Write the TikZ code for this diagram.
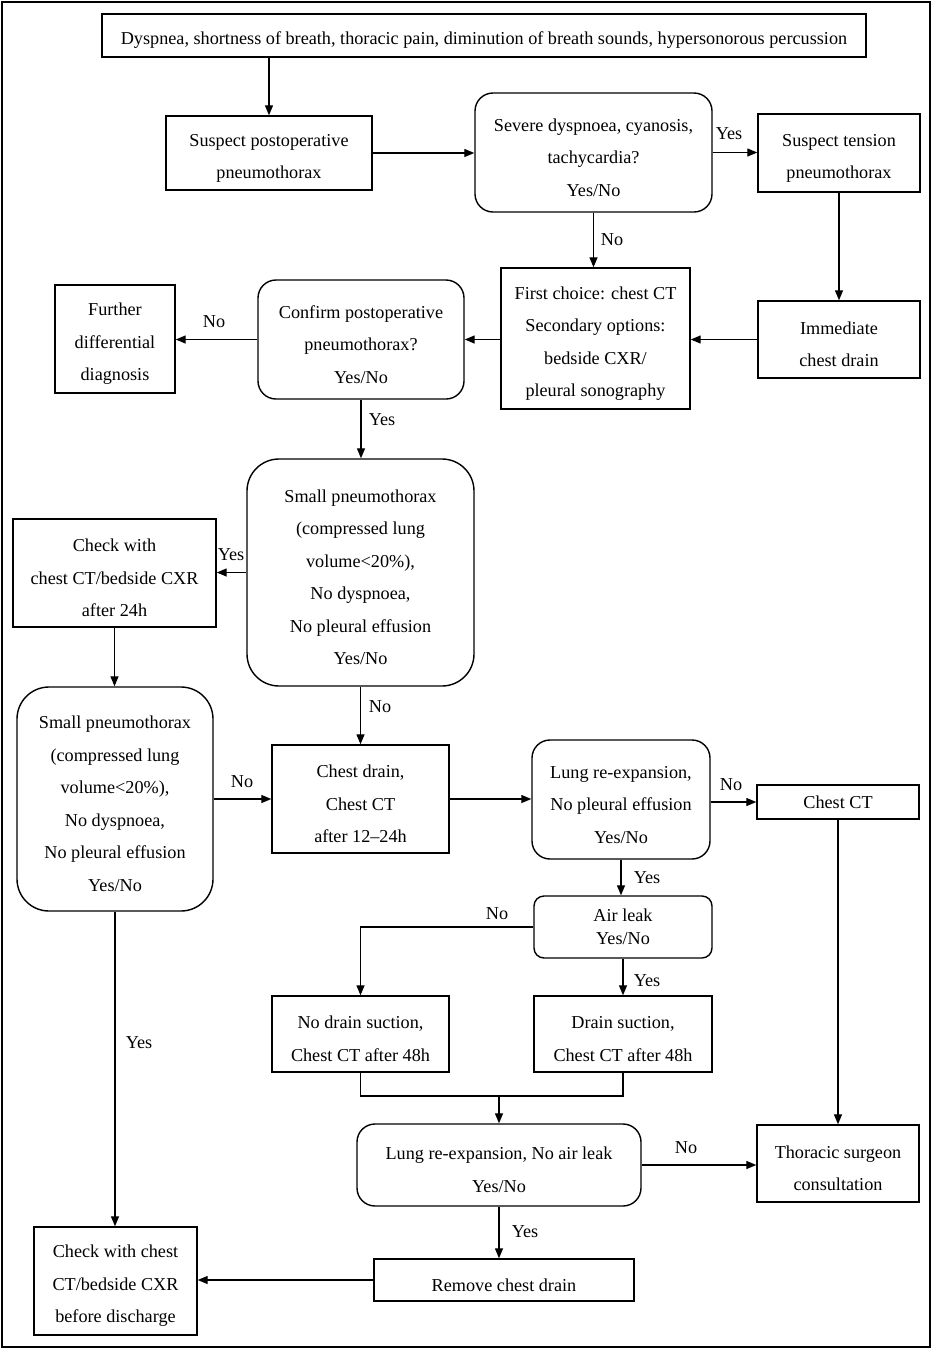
\documentclass[tikz,border=0pt]{standalone}
\usepackage{fontspec}
\setmainfont{Liberation Serif}
\usetikzlibrary{arrows.meta}
\newcommand\fl{\rule{0pt}{22.5pt}}
\begin{document}
\begin{tikzpicture}[x=1pt,y=-1pt,
 every node/.style={font=\fontsize{18.2}{32.5}\selectfont},
 box/.style={draw, line width=1.4pt, align=center, inner sep=0pt},
 rbox/.style={box, rounded corners=18pt},
 arr/.style={line width=1.3pt, -{Triangle[length=10pt,width=8pt]}},
 ln/.style={line width=1.3pt},
 lbl/.style={inner sep=0pt}]
\useasboundingbox (0,0) rectangle (933,1350);
\draw[line width=1.5pt] (2,2) rectangle (930,1347);

\node[box, minimum width=764pt, minimum height=43pt] (n1) at (484,35.5) {\fl Dyspnea, shortness of breath, thoracic pain, diminution of breath sounds, hypersonorous percussion};
\node[box, minimum width=206pt, minimum height=74pt] (n2) at (269,153) {\fl Suspect postoperative\\pneumothorax};
\node[rbox, minimum width=237pt, minimum height=119pt] (n3) at (593.5,152.5) {\fl Severe dyspnoea, cyanosis,\\tachycardia?\\Yes/No};
\node[box, minimum width=162pt, minimum height=78pt] (n4) at (839,153) {\fl Suspect tension\\pneumothorax};
\node[box, minimum width=189pt, minimum height=141pt] (n5) at (595.5,338.5) {\fl First choice: chest CT\\Secondary options:\\bedside CXR/\\pleural sonography};
\node[box, minimum width=162pt, minimum height=77pt] (n6) at (839,339.5) {\fl Immediate\\chest drain};
\node[rbox, minimum width=206pt, minimum height=119pt] (n7) at (361,339.5) {\fl Confirm postoperative\\pneumothorax?\\Yes/No};
\node[box, minimum width=120pt, minimum height=108pt] (n8) at (115,339) {\fl Further\\differential\\diagnosis};
\node[rbox, rounded corners=32pt, minimum width=227pt, minimum height=227pt] (n9) at (360.5,572.5) {\fl Small pneumothorax\\(compressed lung\\volume<20\%),\\No dyspnoea,\\No pleural effusion\\Yes/No};
\node[box, minimum width=203pt, minimum height=108pt] (n10) at (114.5,573) {\fl Check with\\chest CT/bedside CXR\\after 24h};
\node[rbox, rounded corners=32pt, minimum width=196pt, minimum height=224pt] (n11) at (115,799) {\fl Small pneumothorax\\(compressed lung\\volume<20\%),\\No dyspnoea,\\No pleural effusion\\Yes/No};
\node[box, minimum width=177pt, minimum height=108pt] (n12) at (360.5,799) {\fl Chest drain,\\Chest CT\\after 12–24h};
\node[rbox, minimum width=178pt, minimum height=119pt] (n13) at (621,799.5) {\fl Lung re-expansion,\\No pleural effusion\\Yes/No};
\node[box, minimum width=162pt, minimum height=34pt] (n14) at (838,802) {Chest CT};
\node[box, rounded corners=10pt, minimum width=178pt, minimum height=62pt, font=\fontsize{18.2}{23}\selectfont] (n15) at (623,927) {Air leak\\Yes/No};
\node[box, minimum width=177pt, minimum height=76pt] (n16) at (360.5,1034) {\fl No drain suction,\\Chest CT after 48h};
\node[box, minimum width=178pt, minimum height=76pt] (n17) at (623,1034) {\fl Drain suction,\\Chest CT after 48h};
\node[rbox, minimum width=284pt, minimum height=82pt] (n18) at (499,1165) {\fl Lung re-expansion, No air leak\\Yes/No};
\node[box, minimum width=162pt, minimum height=77pt] (n19) at (838,1163.5) {\fl Thoracic surgeon\\consultation};
\node[box, minimum width=260pt, minimum height=42pt] (n20) at (504,1280) {\fl Remove chest drain};
\node[box, minimum width=163pt, minimum height=108pt] (n21) at (115.5,1281) {\fl Check with chest\\CT/bedside CXR\\before discharge};

\draw[arr] (n1.south -| n2.north) -- (n2.north);
\draw[arr] (n2.east) -- (n2.east -| n3.west);
\draw[arr] (n3.east) -- (n3.east -| n4.west);
\draw[arr] (n3.south) -- (n3.south |- n5.north);
\draw[arr] (n4.south) -- (n6.north);
\draw[arr] (n6.west) -- (n6.west -| n5.east);
\draw[arr] (n7.east -| n5.west) -- (n7.east);
\draw[arr] (n7.west) -- (n7.west -| n8.east);
\draw[arr] (n7.south) -- (n7.south |- n9.north);
\draw[arr] (n9.west) -- (n9.west -| n10.east);
\draw[arr] (n10.south) -- (n10.south |- n11.north);
\draw[arr] (n9.south) -- (n9.south |- n12.north);
\draw[arr] (n11.east) -- (n11.east -| n12.west);
\draw[arr] (n12.east) -- (n12.east -| n13.west);
\draw[arr] (n14.west -| n13.east) -- (n14.west);
\draw[arr] (n13.south) -- (n13.south |- n15.north);
\draw[arr] (n15.south) -- (n15.south |- n17.north);
\draw[arr] (n15.west) -| (n16.north);
\coordinate (m) at (499,1096);
\draw[ln] (n16.south) |- (m) -| (n17.south);
\draw[arr] (m) -- (n18.north);
\draw[arr] (n18.east) -- (n18.east -| n19.west);
\draw[arr] (n14.south) -- (n19.north);
\draw[arr] (n18.south) -- (n18.south |- n20.north);
\draw[arr] (n20.west) -- (n20.west -| n21.east);
\draw[arr] (n11.south) -- (n11.south |- n21.north);

\node[lbl] (l1) at (729,134) {Yes};
\node[lbl] (l2) at (612,240) {No};
\node[lbl] (l3) at (214,322) {No};
\node[lbl] (l4) at (382,420) {Yes};
\node[lbl] (l5) at (231,555) {Yes};
\node[lbl] (l6) at (380,707) {No};
\node[lbl] (l7) at (242,782) {No};
\node[lbl] (l8) at (731,785) {No};
\node[lbl] (l9) at (647,878) {Yes};
\node[lbl] (l10) at (497,914) {No};
\node[lbl] (l11) at (647,981) {Yes};
\node[lbl] (l12) at (686,1148) {No};
\node[lbl] (l13) at (525,1232) {Yes};
\node[lbl] (l14) at (139,1043) {Yes};
\end{tikzpicture}
\end{document}
